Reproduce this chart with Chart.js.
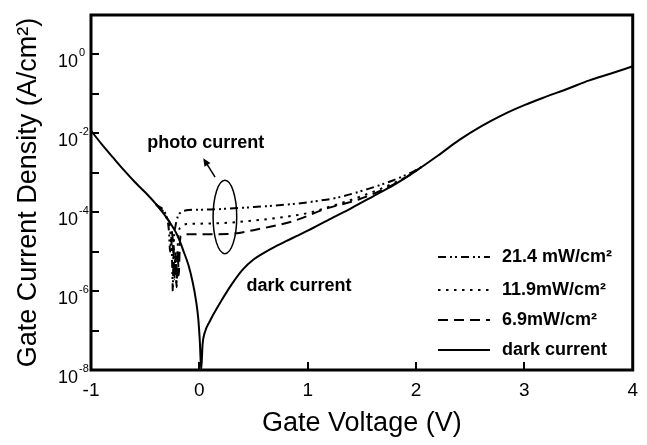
<!DOCTYPE html>
<html>
<head>
<meta charset="utf-8">
<script src="https://cdn.jsdelivr.net/npm/chart.js@4.4.1/dist/chart.umd.min.js"></script>
<style>
  html, body { margin: 0; padding: 0; background: #fff; }
  #wrap { width: 647px; height: 445px; }
</style>
</head>
<body>
<div id="wrap"><canvas id="c" width="647" height="445"></canvas></div>
<script>
// ---------- data ----------
const V_dark = [-1, -0.9, -0.8, -0.7, -0.6, -0.5, -0.4, -0.3, -0.2, -0.15, -0.1, -0.06, -0.03, -0.01, 0.005, 0.017,
  0.03, 0.05, 0.1, 0.2, 0.3, 0.4, 0.5, 0.6, 0.7, 0.8, 0.9, 1.0, 1.2, 1.4, 1.6, 1.8, 2.0, 2.2, 2.4, 2.6, 2.8, 3.0, 3.2, 3.4, 3.6, 3.8, 4.0];
const J_dark = [1.17e-2, 5.25e-3, 2.5e-3, 1.2e-3, 6.0e-4, 3.2e-4, 1.6e-4, 7.1e-5, 2.5e-5, 1.1e-5, 4.5e-6, 1.6e-6, 5.6e-7, 2.0e-7, 5.0e-8, 1.0e-8,
  4.5e-8, 8.9e-8, 1.8e-7, 5.5e-7, 1.5e-6, 3.5e-6, 6.3e-6, 9.5e-6, 1.35e-5, 1.85e-5, 2.5e-5, 3.4e-5, 6.6e-5, 1.26e-4, 2.5e-4, 5.0e-4, 1.12e-3, 2.7e-3, 6.8e-3, 1.5e-2, 2.95e-2, 5.2e-2, 8.5e-2, 0.135, 0.22, 0.33, 0.5];

const V_214 = [-0.4, -0.3, -0.28, -0.27, -0.26, -0.25, -0.245, -0.24, -0.235, -0.22, -0.2, -0.17, -0.12, -0.05, 0.1, 0.26, 0.5, 0.87, 1.1, 1.26, 1.56, 1.78, 1.95, 2.05];
const J_214 = [1.6e-4, 7.1e-5, 3.2e-5, 1.0e-5, 2.5e-5, 4.0e-6, 1.0e-6, 6.3e-6, 2.0e-5, 4.5e-5, 7.6e-5, 1.0e-4, 1.12e-4, 1.15e-4, 1.17e-4, 1.23e-4, 1.35e-4, 1.62e-4, 1.95e-4, 2.3e-4, 3.9e-4, 6.3e-4, 1.0e-3, 1.4e-3];

const V_119 = [-0.4, -0.3, -0.27, -0.25, -0.24, -0.23, -0.22, -0.21, -0.2, -0.19, -0.17, -0.12, -0.05, 0.26, 0.72, 1.0, 1.17, 1.47, 1.7, 1.9, 2.05];
const J_119 = [1.6e-4, 7.1e-5, 3.5e-5, 1.0e-5, 2.0e-5, 2.5e-6, 1.0e-5, 1.6e-6, 1.26e-5, 3.2e-5, 4.2e-5, 5.0e-5, 5.1e-5, 5.4e-5, 7.2e-5, 9.5e-5, 1.29e-4, 2.4e-4, 4.2e-4, 7.6e-4, 1.4e-3];

const V_69 = [-0.4, -0.3, -0.26, -0.24, -0.23, -0.22, -0.21, -0.2, -0.19, -0.18, -0.17, -0.12, 0.0, 0.26, 0.56, 0.87, 1.17, 1.47, 1.7, 1.9, 2.05];
const J_69 = [1.6e-4, 7.1e-5, 4.0e-5, 1.26e-5, 2.0e-6, 7.9e-6, 1.26e-6, 1.0e-5, 2.5e-6, 1.6e-5, 2.5e-5, 2.75e-5, 2.75e-5, 2.8e-5, 3.8e-5, 6.0e-5, 1.23e-4, 2.1e-4, 3.8e-4, 7.4e-4, 1.4e-3];

const seriesLabels = ['21.4 mW/cm\u00B2', '11.9mW/cm\u00B2', '6.9mW/cm\u00B2', 'dark current'];
const xTicks = [-1, 0, 1, 2, 3, 4];
const yDecades = [1e-8, 1e-7, 1e-6, 1e-5, 1e-4, 1e-3, 1e-2, 1e-1, 1e0, 1e1];
const yLabelExps = [0, -2, -4, -6, -8];

// annotation anchors (data coordinates)
const photoText = { x: 0.06, y: Math.pow(10, -2.25), text: 'photo current' };
const darkText = { x: 0.92, y: Math.pow(10, -5.86), text: 'dark current' };
const arrowFrom = { x: 0.145, y: Math.pow(10, -3.11) };
const arrowTo = { x: 0.036, y: Math.pow(10, -2.63) };
const ellipseBox = { x0: 0.127, x1: 0.345, yTop: Math.pow(10, -3.19), yBot: Math.pow(10, -5.05) };

const FONT = "'Liberation Sans', Arial, Helvetica, sans-serif";

function pts(V, J) { return V.map((v, i) => ({ x: v, y: J[i] })); }

const decorPlugin = {
  id: 'decor',
  afterDatasetsDraw(chart) {
    const { ctx, chartArea: ca, scales: { x, y } } = chart;
    ctx.save();
    ctx.strokeStyle = '#000';
    ctx.fillStyle = '#000';
    ctx.setLineDash([]);
    // frame
    ctx.lineWidth = 3;
    ctx.strokeRect(ca.left, ca.top, ca.right - ca.left, ca.bottom - ca.top);
    // inward ticks
    ctx.lineWidth = 2;
    yDecades.forEach(v => {
      const py = Math.round(y.getPixelForValue(v));
      ctx.beginPath(); ctx.moveTo(ca.left, py); ctx.lineTo(ca.left + 8, py); ctx.stroke();
    });
    xTicks.forEach(v => {
      const px = Math.round(x.getPixelForValue(v));
      ctx.beginPath(); ctx.moveTo(px, ca.bottom); ctx.lineTo(px, ca.bottom - 8); ctx.stroke();
    });
    // y tick labels with superscript exponents
    yLabelExps.forEach(e => {
      const py = y.getPixelForValue(Math.pow(10, e));
      ctx.font = '18px ' + FONT;
      ctx.textAlign = 'right';
      ctx.textBaseline = 'alphabetic';
      const bx = ca.left - 13;
      ctx.fillText('10', bx, py + 13);
      ctx.font = '11px ' + FONT;
      ctx.textAlign = 'left';
      ctx.fillText(e === 0 ? '0' : '-' + (-e), bx + 1, py + 2);
    });
    // ellipse
    const ex0 = x.getPixelForValue(ellipseBox.x0), ex1 = x.getPixelForValue(ellipseBox.x1);
    const ey0 = y.getPixelForValue(ellipseBox.yTop), ey1 = y.getPixelForValue(ellipseBox.yBot);
    ctx.lineWidth = 1.5;
    ctx.beginPath();
    ctx.ellipse((ex0 + ex1) / 2, (ey0 + ey1) / 2, (ex1 - ex0) / 2, (ey1 - ey0) / 2, 0, 0, Math.PI * 2);
    ctx.stroke();
    // arrow
    const ax0 = x.getPixelForValue(arrowFrom.x), ay0 = y.getPixelForValue(arrowFrom.y);
    const ax1 = x.getPixelForValue(arrowTo.x), ay1 = y.getPixelForValue(arrowTo.y);
    const ang = Math.atan2(ay1 - ay0, ax1 - ax0);
    const hl = 8, hw = 3.5;
    ctx.beginPath(); ctx.moveTo(ax0, ay0);
    ctx.lineTo(ax1 - Math.cos(ang) * hl * 0.8, ay1 - Math.sin(ang) * hl * 0.8); ctx.stroke();
    ctx.beginPath();
    ctx.moveTo(ax1, ay1);
    ctx.lineTo(ax1 - Math.cos(ang) * hl + Math.sin(ang) * hw, ay1 - Math.sin(ang) * hl - Math.cos(ang) * hw);
    ctx.lineTo(ax1 - Math.cos(ang) * hl - Math.sin(ang) * hw, ay1 - Math.sin(ang) * hl + Math.cos(ang) * hw);
    ctx.closePath(); ctx.fill();
    // annotation texts
    ctx.font = 'bold 18px ' + FONT;
    ctx.textAlign = 'center';
    ctx.textBaseline = 'middle';
    ctx.fillText(photoText.text, x.getPixelForValue(photoText.x), y.getPixelForValue(photoText.y));
    ctx.fillText(darkText.text, x.getPixelForValue(darkText.x), y.getPixelForValue(darkText.y));
    // legend
    const rows = [257, 290, 320, 350];
    chart.data.datasets.forEach((ds, i) => {
      const ry = rows[i];
      ctx.lineWidth = ds.borderWidth || 2;
      ctx.setLineDash(ds.borderDash || []);
      ctx.beginPath(); ctx.moveTo(438, ry); ctx.lineTo(490, ry); ctx.stroke();
      ctx.setLineDash([]);
      ctx.font = 'bold 18px ' + FONT;
      ctx.textAlign = 'left';
      ctx.textBaseline = 'middle';
      ctx.fillText(ds.label, 502, ry);
    });
    ctx.restore();
  }
};

new Chart(document.getElementById('c'), {
  type: 'scatter',
  data: {
    datasets: [
      { label: seriesLabels[0], data: pts(V_214, J_214), borderDash: [8, 4, 2, 3, 2, 4] },
      { label: seriesLabels[1], data: pts(V_119, J_119), borderDash: [2.5, 5.5] },
      { label: seriesLabels[2], data: pts(V_69, J_69), borderDash: [10, 6] },
      { label: seriesLabels[3], data: pts(V_dark, J_dark), borderDash: [] }
    ].map(d => Object.assign({
      showLine: true, borderColor: '#000', backgroundColor: '#000', borderWidth: 2,
      pointRadius: 0, fill: false, cubicInterpolationMode: 'monotone'
    }, d))
  },
  options: {
    responsive: false,
    animation: false,
    devicePixelRatio: 1,
    layout: { padding: { left: 0, right: 6, top: 15, bottom: 0 } },
    plugins: { legend: { display: false }, tooltip: { enabled: false } },
    scales: {
      x: {
        type: 'linear', min: -1, max: 4,
        afterBuildTicks: s => { s.ticks = xTicks.map(v => ({ value: v })); },
        afterFit: s => { s.height = 75; },
        ticks: { color: '#000', font: { family: FONT, size: 19 }, padding: 9, maxRotation: 0, autoSkip: false },
        grid: { display: false, drawTicks: false },
        border: { display: false },
        title: { display: true, text: 'Gate Voltage (V)', color: '#000', font: { family: FONT, size: 27 }, padding: { top: 0, bottom: 5 } }
      },
      y: {
        type: 'logarithmic', min: 1e-8, max: 10,
        afterBuildTicks: s => { s.ticks = yDecades.map(v => ({ value: v })); },
        afterFit: s => { s.width = 91; },
        ticks: { display: false },
        grid: { display: false, drawTicks: false },
        border: { display: false },
        title: { display: true, text: 'Gate Current Density (A/cm\u00B2)', color: '#000', font: { family: FONT, size: 27 }, padding: { top: 12, bottom: 0 } }
      }
    }
  },
  plugins: [decorPlugin]
});
</script>
</body>
</html>
